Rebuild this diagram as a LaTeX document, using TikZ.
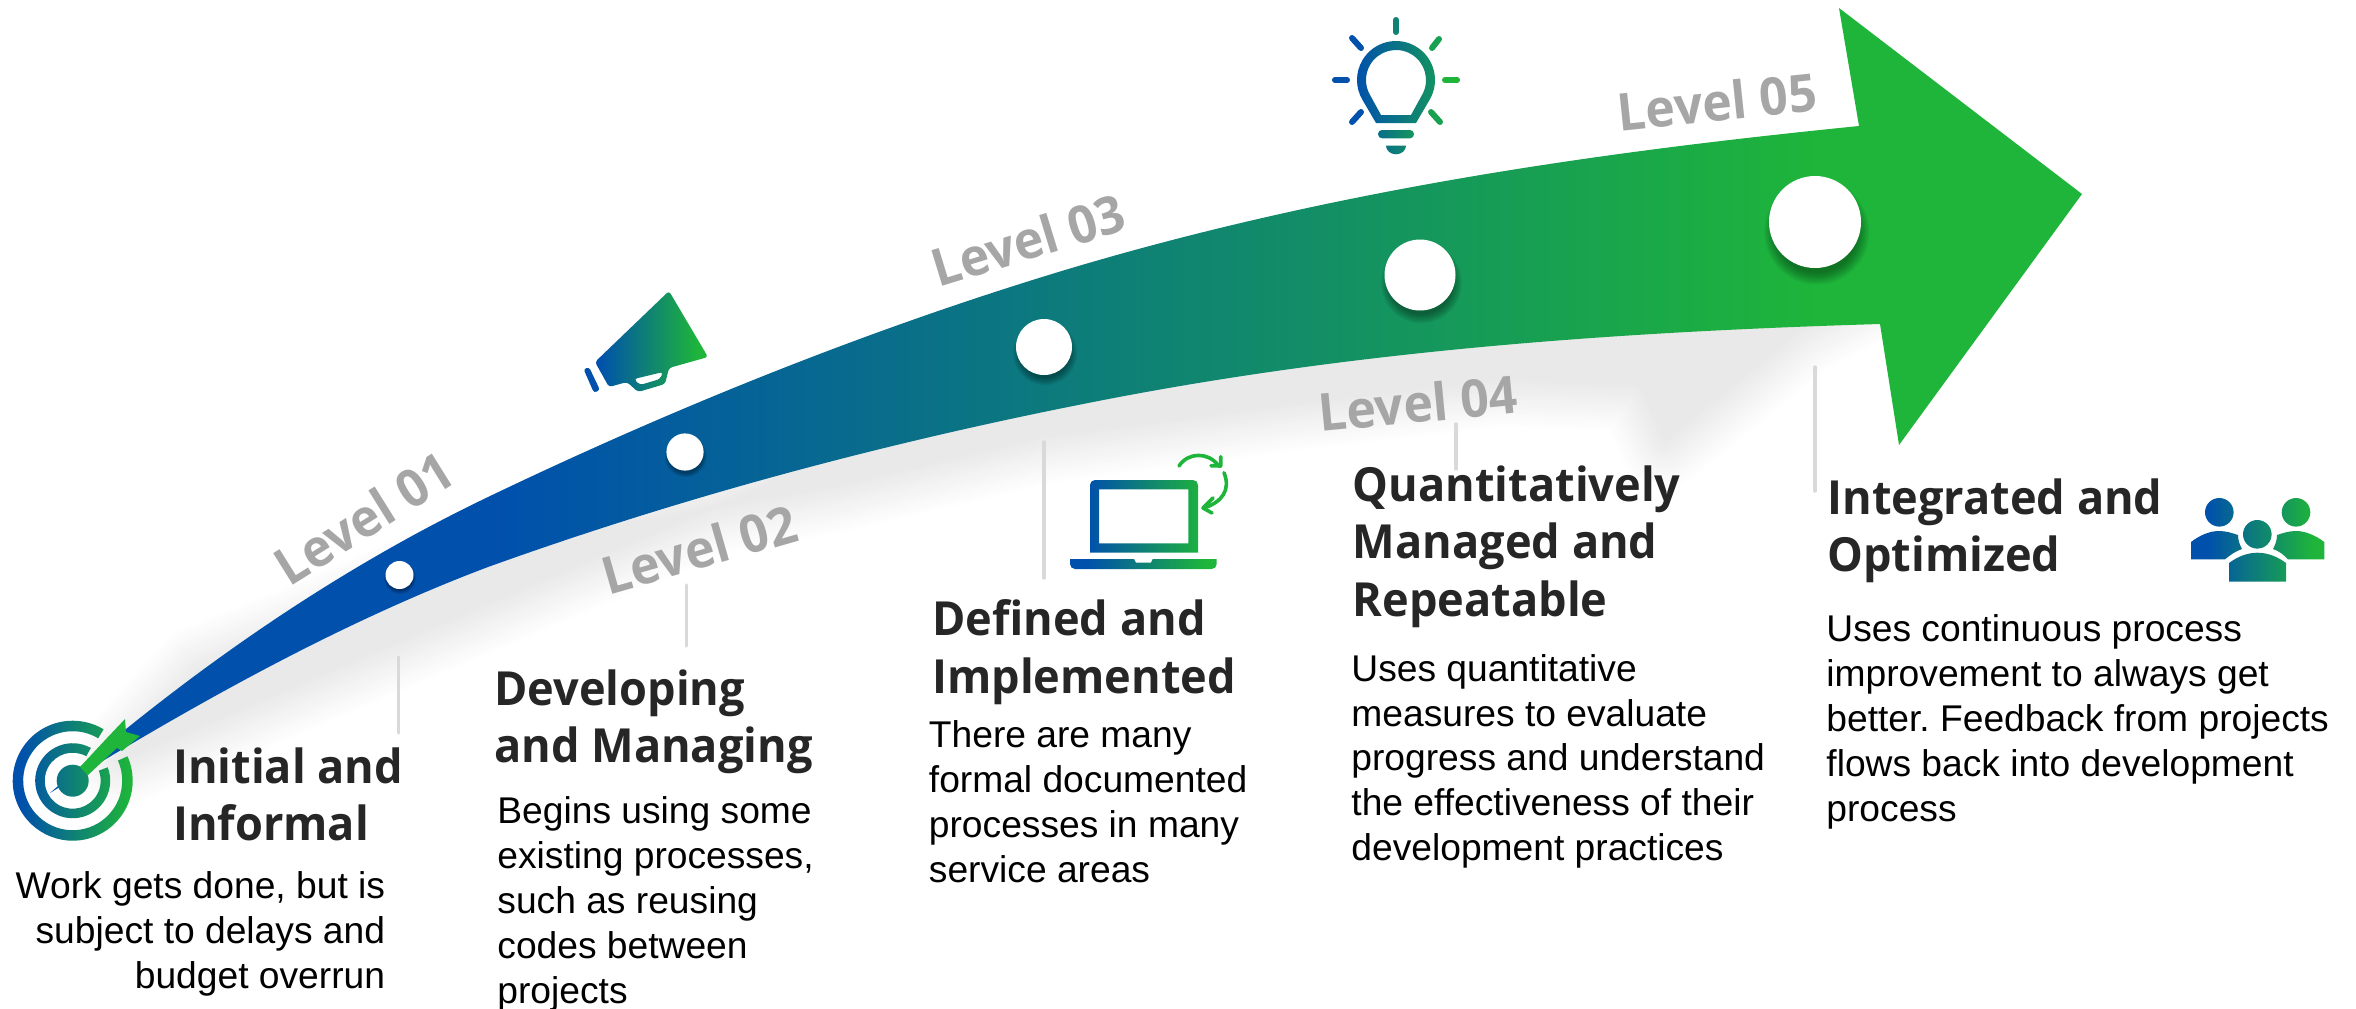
\documentclass[tikz,border=0pt]{standalone}
\usepackage{fontspec}
\setmainfont{Liberation Sans}
\newfontfamily\headfont{Open Sans}[FakeStretch=0.96]
\usetikzlibrary{calc}
\frenchspacing
\definecolor{gblue}{HTML}{0050AC}
\definecolor{ggreen}{HTML}{1EB53A}
\definecolor{levelgray}{HTML}{A6A6A6}
\definecolor{headcol}{HTML}{262626}
\definecolor{linecol}{HTML}{D9D9D9}
\definecolor{shadowcol}{HTML}{E9E9E9}
\pgfdeclarehorizontalshading{arrowgrad}{100bp}{color(0bp)=(gblue); color(36bp)=(gblue); color(68.5bp)=(ggreen); color(100bp)=(ggreen)}
\pgfdeclarehorizontalshading{icongrad}{100bp}{color(0bp)=(gblue); color(31bp)=(gblue); color(71bp)=(ggreen); color(100bp)=(ggreen)}
\tikzset{
  levellabel/.style={font=\headfont\bfseries\fontsize{26}{30}\selectfont, text=levelgray, inner sep=0pt},
  headlabel/.style={font=\headfont\bfseries\fontsize{23.5}{28.6}\selectfont, text=headcol, inner sep=0pt, anchor=north west, align=left},
  bodylabel/.style={font=\fontsize{18.6}{22.4}\selectfont, text=black, inner sep=0pt, anchor=north west, align=left},
  leader/.style={draw=linecol, line width=1.7pt, line cap=round},
  icon/.style={shading=icongrad, even odd rule},
  ray/.style={line width=3pt, line cap=round},
  hookline/.style={draw=ggreen, line width=1.8pt, line cap=round, line join=round},
  dotnode/.style={circle, fill=white, inner sep=0pt},
}
\newcommand{\shadowpath}{(120,760) -- (200,672) -- (300,632) -- (480,552) -- (700,510) -- (840,485) -- (1040,437) -- (1300,403) -- (1500,380) -- (1640,385) -- (1665,440) -- (1800,330) -- (1860,300) -- (1200,300) -- cycle}
\newcommand{\leveldot}[4]{%
  \foreach \k in {0,...,7}{
    \fill[black, opacity=.05] ($(#2,#3)+(#4*.04,#4*.22)$) circle ({#4*(1.14-.035*\k)});
  }
  \node[dotnode, minimum size=#4 pt] (#1) at (#2,#3) {};
}
\begin{document}
\begin{tikzpicture}[x=0.5pt,y=-0.5pt]
\useasboundingbox (0,0) rectangle (2356,1008);

% soft shadow under the arrow
\foreach \i in {0,...,16}{
  \pgfmathsetmacro{\rr}{50*(1-\i/16)}
  \pgfmathsetmacro{\mx}{100*\i/16}
  \colorlet{layer}{shadowcol!\mx!white}
  \path[fill=layer, draw=layer, line width=\rr pt, line join=round] \shadowpath;
}

% main arrow
\shade[shading=arrowgrad]
  (50,793) .. controls (196,665) and (342,567) .. (488,497)
  .. controls (680,405) and (873,328) .. (1065,270)
  .. controls (1330,190.5) and (1594,152.5) .. (1859,126)
  -- (1839,8) -- (2082,194) -- (1899,445) -- (1880,324)
  .. controls (1626,331.6) and (1373,349) .. (1119,397)
  .. controls (909,437) and (698,491.4) .. (488,567)
  .. controls (342,622) and (196,703) .. (50,793)
  -- cycle;

% dots
\leveldot{d1}{399.5}{575}{14}
\leveldot{d2}{685}{452}{18.6}
\leveldot{d3}{1044}{347}{28}
\leveldot{d4}{1420}{275}{35.5}
\leveldot{d5}{1815}{222}{46}

% leader lines
\coordinate (l1a) at (398.5,657); \coordinate (l1b) at (398.5,733);
\coordinate (l2a) at (686.5,585); \coordinate (l2b) at (686.5,646);
\coordinate (l3a) at (1044,442); \coordinate (l3b) at (1044,578);
\coordinate (l4a) at (1456,424); \coordinate (l4b) at (1456,469);
\coordinate (l5a) at (1815,367); \coordinate (l5b) at (1815,491);
\draw[leader] (l1a) -- (l1b);
\draw[leader] (l2a) -- (l2b);
\draw[leader] (l3a) -- (l3b);
\draw[leader] (l4a) -- (l4b);
\draw[leader] (l5a) -- (l5b);

% level labels
\node[levellabel, rotate=32] (lv1) at (364,518) {Level 01};
\node[levellabel, rotate=16] (lv2) at (699,549) {Level 02};
\node[levellabel, rotate=17] (lv3) at (1028,240) {Level 03};
\node[levellabel, rotate=5.5] (lv4) at (1418,403) {Level 04};
\node[levellabel, rotate=6] (lv5) at (1717,102) {Level 05};

% target icon
\coordinate (tc) at (72.7,780.7);
\shade[icon]
  ([shift={(-24:60)}]tc) arc (-24:301:60) -- ([shift={(301:49.5)}]tc) arc (301:-24:49.5) -- cycle
  ([shift={(-21:37.5)}]tc) arc (-21:299:37.5) -- ([shift={(299:28)}]tc) arc (299:-21:28) -- cycle
  (tc) circle (16);
\fill[ggreen] (125,719) -- (126,732) -- (140,736) -- (122,751) -- (117,748) -- (88,775) -- (80,767) -- (107,738) -- cycle;

% megaphone
\shade[icon, rounded corners=1.5pt]
  (595,362) -- (669,291) -- (708,357) -- (669,368) -- (665,384) -- (638,392) -- (627,382) -- (609,387) -- cycle
  (634,379) -- (640,385) -- (660,379) -- (663,372) -- cycle
  (583.5,369) -- (589,367) -- (600,390) -- (594,393) -- cycle;

% bulb
\shade[icon, left color=gblue, right color=ggreen!70!gblue]
  (1416,123) -- ([shift={(31:39)}]1396,80) arc (31:-211:39) -- (1376,123) -- cycle
  (1411,115) -- ([shift={(30:30)}]1396,80) arc (30:-210:30) -- (1381,115) -- cycle;
\shade[left color=gblue!70!ggreen, right color=gblue!30!ggreen, rounded corners=2pt]
  (1378,130) rectangle (1414,138.3);
\shade[left color=gblue!65!ggreen, right color=gblue!45!ggreen]
  (1386,145.7) -- (1406,145.7) arc (0:180:10 and 8.6) -- cycle;
\draw[ray, color=gblue!50!ggreen] (1396,20) -- (1396,32);
\draw[ray, color=ggreen!80!gblue] (1439,39) -- (1432,48);
\draw[ray, color=ggreen] (1445,80) -- (1457,80);
\draw[ray, color=ggreen!80!gblue] (1431,112) -- (1440,122);
\draw[ray, color=gblue] (1361,112) -- (1352,122);
\draw[ray, color=gblue] (1335,80) -- (1347,80);
\draw[ray, color=gblue] (1352,38) -- (1361,48);

% laptop
\shade[icon]
  (1090,552.7) [rounded corners=2.5pt] -- (1090,480) -- (1198,480) [sharp corners] -- (1198,552.7) -- cycle
  (1099,489.3) rectangle (1188.3,543.3)
  (1070,559) -- (1134,559) -- (1136,562.7) -- (1151,562.7) -- (1152.7,559) -- (1216.7,559) [rounded corners=2.5pt] -- (1216.7,569) -- (1070,569) [sharp corners] -- cycle;
\draw[hookline] (1179,466) .. controls (1188,452) and (1208,452) .. (1218,465);
\draw[hookline] (1220.7,456.7) -- (1220.7,466) -- (1211,465.7);
\draw[hookline] (1224,472.7) .. controls (1231,490) and (1222,502) .. (1204,508);
\draw[hookline] (1213,498) -- (1203,508) -- (1212,513);

% people
\shade[icon]
  (2219.3,512.3) circle (14.3)
  (2296,512.3) circle (14.3)
  (2257.3,534.3) circle (14.3)
  (2191,559.3) -- (2191,542) .. controls (2200,535) and (2210,531) .. (2219,531) .. controls (2226,531) and (2232,533) .. (2238,535) .. controls (2238,541) and (2240,545) .. (2242,549) .. controls (2236,551) and (2230,555) .. (2225,559.3) -- cycle
  (2324.3,559.3) -- (2324.3,542) .. controls (2315,535) and (2305,531) .. (2296,531) .. controls (2289,531) and (2283,533) .. (2277,535) .. controls (2277,541) and (2275,545) .. (2273,549) .. controls (2279,551) and (2284,555) .. (2288,559.3) -- cycle
  (2229,581.7) -- (2229,563) .. controls (2237,557) and (2247,552.7) .. (2257.3,552.7) .. controls (2268,552.7) and (2278,557) .. (2286,563) -- (2286,581.7) -- cycle;

% headings
\node[headlabel] (h1) at (172.7,747.5) {Initial and\\Informal};
\node[headlabel] (h2) at (494,669.5) {Developing\\and Managing};
\node[headlabel] (h3) at (932,599.5) {Defined and\\Implemented};
\node[headlabel] (h4) at (1352.5,465.5) {Quantitatively\\Managed and\\Repeatable};
\node[headlabel] (h5) at (1827,478.5) {Integrated and\\Optimized};

% bodies
\node[bodylabel, anchor=north east, align=right] (b1) at (385.5,871.5) {Work gets done, but is\\subject to delays and\\budget overrun};
\node[bodylabel] (b2) at (497,796.5) {Begins using some\\existing processes,\\such as reusing\\codes between\\projects};
\node[bodylabel] (b3) at (928.5,720.5) {There are many\\formal documented\\processes in many\\service areas};
\node[bodylabel] (b4) at (1351,654) {Uses quantitative\\measures to evaluate\\progress and understand\\the effectiveness of their\\development practices};
\node[bodylabel] (b5) at (1826,614.5) {Uses continuous process\\improvement to always get\\better. Feedback from projects\\flows back into development\\process};
\end{tikzpicture}
\end{document}
